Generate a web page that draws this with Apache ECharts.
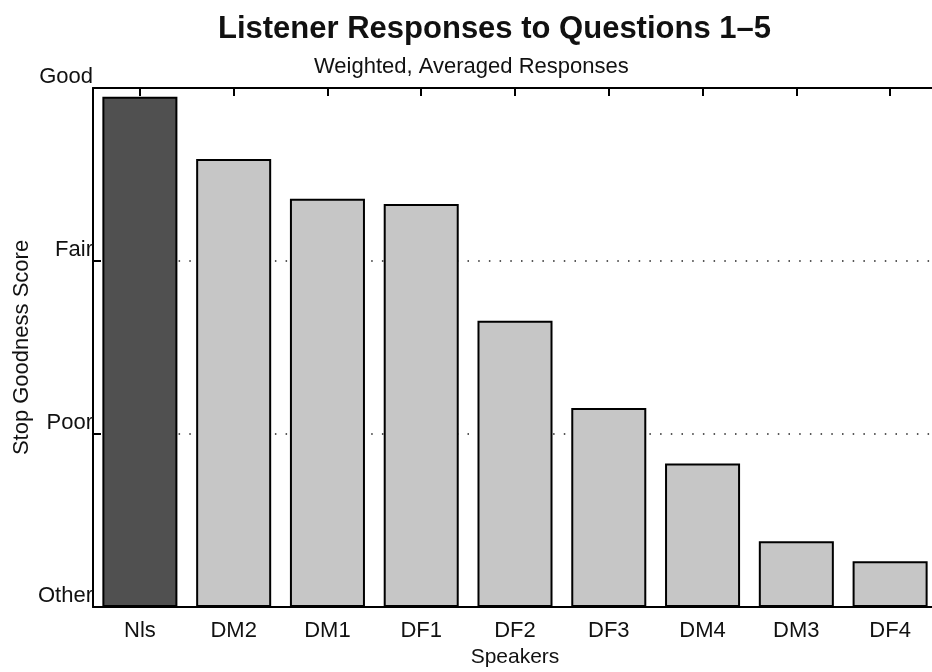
<!DOCTYPE html>
<html>
<head>
<meta charset="utf-8">
<script src="https://cdn.jsdelivr.net/npm/echarts@6/dist/echarts.min.js"></script>
<style>html,body{margin:0;padding:0;background:#fff;}#c{width:932px;height:672px;}</style>
</head>
<body>
<div id="c"></div>
<script>
const speakers = ['Nls', 'DM2', 'DM1', 'DF1', 'DF2', 'DF3', 'DM4', 'DM3', 'DF4'];
const scores = [2.95, 2.59, 2.36, 2.33, 1.655, 1.15, 0.83, 0.38, 0.265];
const yTickLabels = ['Other', 'Poor', 'Fair', 'Good'];

const FONT = '"Liberation Sans", Arial, Helvetica, sans-serif';
const chart = echarts.init(document.getElementById('c'), null, {renderer: 'canvas'});
chart.setOption({
  animation: false,
  backgroundColor: '#ffffff',
  title: [
    {text: 'Listener Responses to Questions 1\u20135', left: 213, top: 9,
     textStyle: {fontFamily: FONT, fontSize: 31, fontWeight: 'bold', color: '#111'}},
    {text: 'Weighted, Averaged Responses', left: 309, top: 51,
     textStyle: {fontFamily: FONT, fontSize: 22, fontWeight: 'normal', color: '#111'}}
  ],
  grid: {left: 93, top: 88, width: 844, height: 519, containLabel: false, outerBoundsMode: 'none'},
  xAxis: [
    {type: 'category', data: speakers, position: 'bottom',
     axisLine: {lineStyle: {color: '#000', width: 2}},
     axisTick: {show: false},
     axisLabel: {fontFamily: FONT, fontSize: 22, color: '#111', margin: 13},
     name: 'Speakers', nameLocation: 'middle', nameGap: 40, nameMoveOverlap: false,
     nameTextStyle: {fontFamily: FONT, fontSize: 21, color: '#111'}},
    {type: 'category', data: speakers, position: 'top',
     axisLine: {lineStyle: {color: '#000', width: 2}},
     axisTick: {show: true, inside: true, alignWithLabel: true, length: 8, lineStyle: {color: '#000', width: 2}},
     axisLabel: {show: false}}
  ],
  yAxis: [{
    type: 'value', min: 0, max: 3, interval: 1,
    axisLine: {show: true, lineStyle: {color: '#000', width: 2}},
    axisTick: {show: true, inside: true, length: 8, lineStyle: {color: '#000', width: 2}},
    axisLabel: {fontFamily: FONT, fontSize: 22, color: '#111', margin: 0, verticalAlign: 'bottom',
      formatter: function (v) { return yTickLabels[Math.round(v)]; }},
    splitLine: {show: true, lineStyle: {color: '#222', width: 1.5, type: [1.5, 9.2]}},
    name: 'Stop Goodness Score', nameLocation: 'middle', nameGap: 71, nameMoveOverlap: false,
    nameTextStyle: {fontFamily: FONT, fontSize: 22, color: '#111', verticalAlign: 'middle'}
  }],
  series: [{
    type: 'bar', xAxisIndex: 0, yAxisIndex: 0,
    data: scores.map(function (v, i) {
      return {value: v, itemStyle: {color: i === 0 ? '#505050' : '#c6c6c6'}};
    }),
    barCategoryGap: '20%',
    itemStyle: {borderColor: '#000', borderWidth: 2}
  }]
});
</script>
</body>
</html>
